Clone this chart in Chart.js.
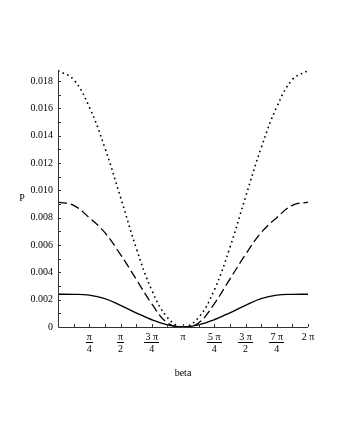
<!DOCTYPE html>
<html>
<head>
<meta charset="utf-8">
<script src="https://cdn.jsdelivr.net/npm/chart.js@4.4.0/dist/chart.umd.min.js"></script>
<style>
    html, body { margin: 0; padding: 0; background: #fff; }
    #wrap { width: 340px; height: 440px; }
</style>
</head>
<body>
<div id="wrap"><canvas id="chart" width="340" height="440"></canvas></div>
<script>
// beta in radians, steps of pi/8 from 0 to 2 pi
const betaValues = [0, 0.3927, 0.7854, 1.1781, 1.5708, 1.9635, 2.3562, 2.7489, 3.1416,
                    3.5343, 3.9270, 4.3197, 4.7124, 5.1051, 5.4978, 5.8905, 6.2832];

const dottedValues = [0.01875, 0.0181, 0.0161, 0.0131, 0.0095, 0.0058, 0.0027, 0.0007, 0,
                      0.0007, 0.0027, 0.0058, 0.0095, 0.0131, 0.0161, 0.0181, 0.01875];
const dashedValues = [0.00914, 0.0089, 0.0080, 0.0069, 0.0053, 0.0035, 0.0017, 0.0003, 0,
                      0.0003, 0.0017, 0.0035, 0.0053, 0.0069, 0.0080, 0.0089, 0.00914];
const solidValues = [0.0024, 0.00239, 0.00233, 0.00207, 0.00158, 0.00104, 0.00053, 0.00016, 0,
                     0.00016, 0.00053, 0.00104, 0.00158, 0.00207, 0.00233, 0.00239, 0.0024];

// x tick labels at multiples of pi/4
const xTickValues = [0.7854, 1.5708, 2.3562, 3.1416, 3.9270, 4.7124, 5.4978, 6.2832];
const xTickNumerators = ['π', 'π', '3 π', 'π', '5 π', '3 π', '7 π', '2 π'];
const xTickDenominators = ['4', '2', '4', '', '4', '2', '4', ''];

const yTickValues = [0, 0.002, 0.004, 0.006, 0.008, 0.010, 0.012, 0.014, 0.016, 0.018];
const yTickLabels = ['0', '0.002', '0.004', '0.006', '0.008', '0.010', '0.012', '0.014', '0.016', '0.018'];

const FONT = '10px "Liberation Serif", "Times New Roman", serif';

function toPoints(values) {
    return values.map((v, i) => ({ x: betaValues[i], y: v }));
}

// 坐標軸與刻度
const axesPlugin = {
    id: 'mapleAxes',
    afterDraw(chart) {
        const ctx = chart.ctx;
        const xs = chart.scales.x;
        const ys = chart.scales.y;
        const left = xs.getPixelForValue(0);
        const bottom = ys.getPixelForValue(0);
        const right = xs.getPixelForValue(xs.max);
        const top = ys.getPixelForValue(ys.max);

        ctx.save();
        ctx.strokeStyle = '#333';
        ctx.lineWidth = 1;
        ctx.beginPath();
        ctx.moveTo(left + 0.5, top);
        ctx.lineTo(left + 0.5, bottom + 0.5);
        ctx.lineTo(right, bottom + 0.5);
        ctx.stroke();

        // minor ticks
        ctx.beginPath();
        for (let v = 0.001; v < ys.max; v += 0.001) {
            const py = Math.round(ys.getPixelForValue(v)) + 0.5;
            ctx.moveTo(left, py);
            ctx.lineTo(left + 3, py);
        }
        for (let i = 1; i <= 16; i++) {
            const px = Math.round(xs.getPixelForValue(betaValues[i])) + 0.5;
            ctx.moveTo(px, bottom);
            ctx.lineTo(px, bottom - 3);
        }
        ctx.stroke();

        ctx.fillStyle = '#000';
        ctx.font = FONT;

        // y labels
        ctx.textAlign = 'right';
        ctx.textBaseline = 'middle';
        yTickValues.forEach((v, i) => {
            ctx.fillText(yTickLabels[i], left - 5, ys.getPixelForValue(v));
        });

        // x labels as fractions
        ctx.textAlign = 'center';
        xTickValues.forEach((v, i) => {
            const px = xs.getPixelForValue(v);
            const num = xTickNumerators[i];
            const den = xTickDenominators[i];
            ctx.fillText(num, px, bottom + 10);
            if (den) {
                const w = ctx.measureText(num).width + 2;
                ctx.fillRect(Math.round(px - w / 2), bottom + 15, Math.round(w), 1);
                ctx.fillText(den, px, bottom + 22);
            }
        });

        // axis titles
        ctx.fillText('beta', xs.getPixelForValue(Math.PI), bottom + 46);
        ctx.fillText('P', 22, ys.getPixelForValue(0.0094));
        ctx.restore();
    }
};

new Chart(document.getElementById('chart'), {
    type: 'line',
    data: {
        datasets: [
            {
                data: toPoints(dottedValues),
                borderColor: '#000',
                borderWidth: 1.6,
                borderDash: [1.6, 3.4],
                pointRadius: 0,
                tension: 0.4
            },
            {
                data: toPoints(dashedValues),
                borderColor: '#000',
                borderWidth: 1.3,
                borderDash: [9, 4],
                pointRadius: 0,
                tension: 0.4
            },
            {
                data: toPoints(solidValues),
                borderColor: '#000',
                borderWidth: 1.4,
                pointRadius: 0,
                tension: 0.4
            }
        ]
    },
    options: {
        responsive: false,
        animation: false,
        layout: { padding: { left: 58, right: 32, top: 70, bottom: 113 } },
        plugins: {
            legend: { display: false },
            tooltip: { enabled: false }
        },
        scales: {
            x: { type: 'linear', min: 0, max: 2 * Math.PI, display: false },
            y: { type: 'linear', min: 0, max: 0.0188, display: false }
        }
    },
    plugins: [axesPlugin]
});
</script>
</body>
</html>
